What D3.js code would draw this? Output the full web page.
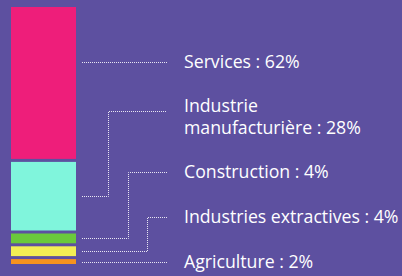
<!DOCTYPE html>
<html>
<head>
<meta charset="utf-8">
<script src="https://cdn.jsdelivr.net/npm/d3@7"></script>
<style>
  body { margin: 0; background: #5d50a0; }
  svg { display: block; }
</style>
</head>
<body>
<div class="chart"></div>
<script>
const width = 402;
const height = 276;

// top to bottom
const sectors = ['Services', 'Industrie manufacturière', 'Construction', 'Industries extractives', 'Agriculture'];
const shares = [62, 28, 4, 4, 2];
const labelLines = [
    ['Services : 62%'],
    ['Industrie', 'manufacturière : 28%'],
    ['Construction : 4%'],
    ['Industries extractives : 4%'],
    ['Agriculture : 2%']
];
const colors = ['#ee1e7a', '#80f5dc', '#6ac93b', '#f3ee54', '#f7931e'];

const labelY = [62, 111, 172, 217, 262];
const elbowX = [null, 108, 128, 147, null];

const gap = 3;
const barTop = 7;
const y = d3.scaleLinear()
    .domain([0, d3.sum(shares)])
    .range([0, 245]);

let data = [];
let acc = 0;
sectors.forEach((s, i) => {
    data.push({
        name: s,
        value: shares[i],
        y0: barTop + y(acc) + i * gap,
        h: y(shares[i]),
        color: colors[i],
        lines: labelLines[i],
        ly: labelY[i],
        ex: elbowX[i]
    });
    acc += shares[i];
});

let svg = d3.select('.chart').append('svg')
    .attr('width', width)
    .attr('height', height);

svg.append('rect')
    .attr('width', width)
    .attr('height', height)
    .attr('fill', '#5d50a0');

svg.selectAll('.bar')
    .data(data)
    .enter()
    .append('rect')
    .attr('class', 'bar')
    .attr('x', 11)
    .attr('y', d => d.y0)
    .attr('width', 65)
    .attr('height', d => d.h)
    .attr('fill', d => d.color);

const leader = d3.line();

svg.selectAll('.leader')
    .data(data)
    .enter()
    .append('path')
    .attr('class', 'leader')
    .attr('d', d => {
        const by = Math.round(d.y0 + d.h / 2) + 0.5;
        const ty = d.ly + 0.5;
        if (d.ex == null) return leader([[82, ty], [167, ty]]);
        const ex = d.ex + 0.5;
        return leader([[82, by], [ex, by], [ex, ty], [167, ty]]);
    })
    .attr('fill', 'none')
    .attr('stroke', '#e8e6f2')
    .attr('stroke-width', 1)
    .attr('stroke-dasharray', '1,1');

let label = svg.selectAll('.label')
    .data(data)
    .enter()
    .append('text')
    .attr('class', 'label')
    .attr('x', 184)
    .attr('y', d => d.lines.length > 1 ? d.ly - 5 : d.ly)
    .attr('fill', 'white')
    .attr('font-family', 'Open Sans, sans-serif')
    .attr('font-size', 17.7);

label.selectAll('tspan')
    .data(d => d.lines)
    .enter()
    .append('tspan')
    .attr('x', 184)
    .attr('dy', (d, i) => i === 0 ? '0.36em' : 22)
    .text(d => d);
</script>
</body>
</html>
